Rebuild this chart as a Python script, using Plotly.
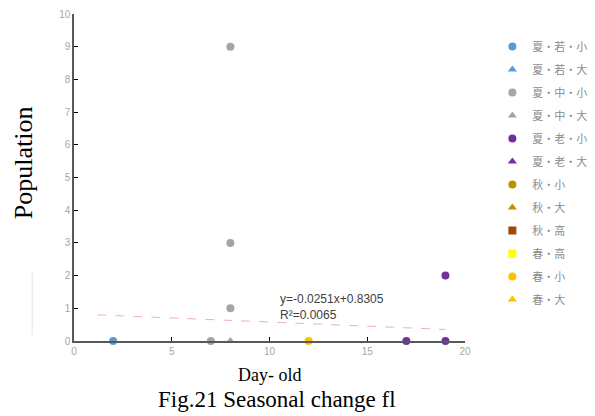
import plotly.graph_objects as go

# ---- data ----
series_names = ["夏・若・小", "夏・若・大", "夏・中・小", "夏・中・大", "夏・老・小", "夏・老・大",
                "秋・小", "秋・大", "秋・高", "春・高", "春・小", "春・大"]
series_x = [[2], [2], [7, 8, 8, 8], [8], [17, 19, 19], [19], [None], [None], [None], [None], [12], [None]]
series_y = [[0], [0], [0, 1, 3, 9], [0], [0, 2, 0], [0], [None], [None], [None], [None], [0], [None]]
series_symbols = ["circle", "triangle-up", "circle", "triangle-up", "circle", "triangle-up",
                  "circle", "triangle-up", "square", "square", "circle", "triangle-up"]
series_colors = ["#5B9BD5", "#5B9BD5", "#A5A5A5", "#A5A5A5", "#7030A0", "#7030A0",
                 "#BF9000", "#BF9000", "#9E480E", "#FFFF00", "#FFC000", "#FFC000"]

trend_slope = -0.0251
trend_intercept = 0.8305
trend_r2 = 0.0065
trend_x = [1.2, 19.0]

x_ticks = [0, 5, 10, 15, 20]
y_ticks = list(range(0, 11))

fig = go.Figure()

for i, name in enumerate(series_names):
    fig.add_trace(go.Scatter(
        x=series_x[i], y=series_y[i], mode="markers", name=name,
        legendgroup=name,
        marker=dict(symbol=series_symbols[i], color=series_colors[i], size=8,
                    line=dict(width=0)),
        cliponaxis=False,
    ))

fig.add_trace(go.Scatter(
    x=trend_x, y=[trend_slope * v + trend_intercept for v in trend_x],
    mode="lines", line=dict(color="#F4AFAF", width=1, dash="dash"),
    showlegend=False, hoverinfo="skip",
))

fig.add_annotation(
    x=10.45, y=1.55, xref="x", yref="y", xanchor="left", yanchor="top",
    text=f"y={trend_slope}x+{trend_intercept}<br>R²={trend_r2}",
    showarrow=False, align="left",
    font=dict(family="Liberation Sans, Arial", size=12, color="#404040"),
)

fig.add_shape(type="line", xref="paper", yref="y", x0=-0.107, x1=-0.107, y0=0.18, y1=2.1,
              line=dict(color="#E3E3E3", width=1))

fig.add_annotation(
    x=-0.130, y=0.544, xref="paper", yref="paper", xanchor="center", yanchor="middle",
    text="Population", showarrow=False, textangle=-90,
    font=dict(family="Liberation Serif, Times New Roman", size=26, color="#000000"),
)
fig.add_annotation(
    x=0.50, y=-0.068, xref="paper", yref="paper", xanchor="center", yanchor="top",
    text="Day- old", showarrow=False,
    font=dict(family="Liberation Serif, Times New Roman", size=18, color="#000000"),
)
fig.add_annotation(
    x=0.52, y=-0.135, xref="paper", yref="paper", xanchor="center", yanchor="top",
    text="Fig.21 Seasonal change fl", showarrow=False,
    font=dict(family="Liberation Serif, Times New Roman", size=23, color="#000000"),
)

fig.update_xaxes(
    range=[0, 20], tickvals=x_ticks, ticks="inside", ticklen=4, tickcolor="#000000",
    showline=True, linecolor="#595959", linewidth=1.5, showgrid=False, zeroline=False,
    tickfont=dict(family="Liberation Sans, Arial", size=10, color="#A6A6A6"),
)
fig.update_yaxes(
    range=[0, 10], tickvals=y_ticks, ticks="inside", ticklen=4, tickcolor="#000000",
    showline=True, linecolor="#595959", linewidth=1.5, showgrid=False, zeroline=False,
    tickfont=dict(family="Liberation Sans, Arial", size=10, color="#A6A6A6"),
)

fig.update_layout(
    width=595, height=416,
    margin=dict(l=74, r=130, t=14, b=75, autoexpand=False),
    plot_bgcolor="white", paper_bgcolor="white",
    legend=dict(x=1.07, y=0.945, xanchor="left", yanchor="top",
                tracegroupgap=4, itemwidth=30,
                font=dict(family="Noto Sans CJK JP", size=11, color="#8C8C8C")),
)

fig.write_html("out.html")
